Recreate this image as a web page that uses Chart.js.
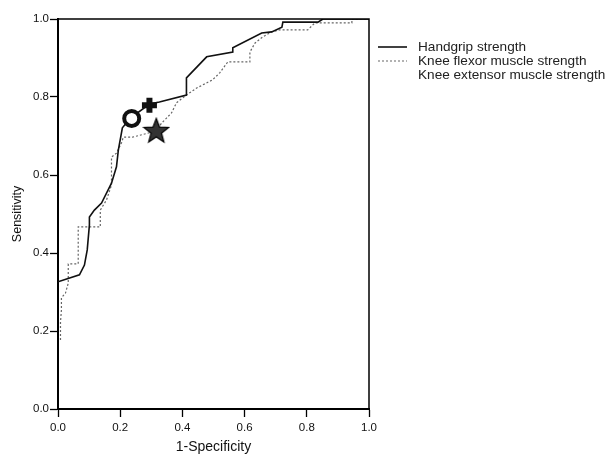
<!DOCTYPE html>
<html>

<head>
    <title>ROC curves</title>
    <script src="https://cdn.jsdelivr.net/npm/chart.js"></script>
    <style>
        body { margin: 0; background: #fff; }
        #wrap { width: 613px; height: 456px; }
    </style>
</head>

<body>
    <div id="wrap"><canvas id="chart"></canvas></div>
    <script>
        // series names (legend)
        const seriesNames = ['Handgrip strength', 'Knee flexor muscle strength', 'Knee extensor muscle strength'];

        // ROC curve, handgrip strength
        const handgripX = [0, 0.069, 0.085, 0.094, 0.101, 0.101, 0.117, 0.140, 0.172, 0.188, 0.194, 0.207, 0.233, 0.294, 0.326, 0.413, 0.413, 0.478, 0.562, 0.562, 0.655, 0.687, 0.720, 0.723, 0.836, 0.852, 1.0];
        const handgripY = [0.326, 0.344, 0.369, 0.408, 0.472, 0.492, 0.510, 0.528, 0.579, 0.621, 0.664, 0.721, 0.746, 0.782, 0.787, 0.805, 0.849, 0.903, 0.915, 0.926, 0.964, 0.967, 0.979, 0.992, 0.992, 1.0, 1.0];

        // ROC curve, knee flexor muscle strength
        const flexorX = [0.008, 0.008, 0.011, 0.011, 0.024, 0.033, 0.033, 0.065, 0.065, 0.136, 0.136, 0.156, 0.172, 0.172, 0.188, 0.204, 0.210, 0.240, 0.316, 0.333, 0.349, 0.365, 0.381, 0.413, 0.446, 0.497, 0.520, 0.546, 0.617, 0.617, 0.633, 0.658, 0.687, 0.713, 0.803, 0.826, 0.945, 0.945, 1.0];
        const flexorY = [0.177, 0.223, 0.254, 0.285, 0.297, 0.323, 0.372, 0.372, 0.467, 0.467, 0.510, 0.536, 0.574, 0.646, 0.656, 0.682, 0.697, 0.697, 0.713, 0.733, 0.746, 0.759, 0.785, 0.805, 0.823, 0.844, 0.862, 0.890, 0.890, 0.915, 0.938, 0.954, 0.967, 0.972, 0.972, 0.990, 0.990, 1.0, 1.0];

        // cut-off markers: circle, plus, star
        const cutX = [0.237, 0.294, 0.316];
        const cutY = [0.745, 0.779, 0.713];

        const tickValues = [0, 0.2, 0.4, 0.6, 0.8, 1.0];

        const toPoints = (xs, ys) => xs.map((x, i) => ({ x: x, y: ys[i] }));

        // filled five point star for the third marker
        const star = document.createElement('canvas');
        star.width = 28; star.height = 28;
        (function () {
            const c = star.getContext('2d');
            c.beginPath();
            for (let i = 0; i < 10; i++) {
                const r = i % 2 === 0 ? 13 : 5.5;
                const a = -Math.PI / 2 + i * Math.PI / 5;
                const px = 14 + r * Math.cos(a), py = 14.5 + r * Math.sin(a);
                i === 0 ? c.moveTo(px, py) : c.lineTo(px, py);
            }
            c.closePath();
            c.fillStyle = '#333';
            c.fill();
            c.lineWidth = 1.2;
            c.strokeStyle = '#000';
            c.stroke();
        })();

        const font = 'Liberation Sans, Arial, sans-serif';

        // top / right frame plus the legend at the right
        const framePlugin = {
            id: 'frameLegend',
            afterDraw(chart) {
                const { ctx, chartArea: a } = chart;
                ctx.save();
                ctx.strokeStyle = '#000';
                ctx.lineWidth = 1.5;
                ctx.beginPath();
                ctx.moveTo(a.left, a.top);
                ctx.lineTo(a.right, a.top);
                ctx.lineTo(a.right, a.bottom);
                ctx.stroke();

                const styles = [
                    { color: '#111', dash: [], width: 1.6 },
                    { color: '#666', dash: [2, 2], width: 1.2 },
                    null
                ];
                ctx.font = '13.6px ' + font;
                ctx.textBaseline = 'middle';
                ctx.fillStyle = '#222';
                seriesNames.forEach((name, i) => {
                    const y = 47 + i * 14;
                    const s = styles[i];
                    if (s) {
                        ctx.strokeStyle = s.color;
                        ctx.lineWidth = s.width;
                        ctx.setLineDash(s.dash);
                        ctx.beginPath();
                        ctx.moveTo(378, y);
                        ctx.lineTo(407, y);
                        ctx.stroke();
                        ctx.setLineDash([]);
                    }
                    ctx.fillText(name, 418, y);
                });
                ctx.restore();
            }
        };

        const axisCommon = {
            type: 'linear',
            min: 0,
            max: 1,
            afterBuildTicks: s => { s.ticks = tickValues.map(v => ({ value: v })); },
            grid: { drawOnChartArea: false, drawTicks: true, tickLength: 8, tickColor: '#000', tickWidth: 1.3 },
            border: { display: true, color: '#000', width: 2 }
        };

        new Chart(document.getElementById('chart'), {
            type: 'scatter',
            data: {
                datasets: [
                    {
                        label: 'cut-off',
                        data: toPoints(cutX, cutY),
                        order: 0,
                        pointStyle: ['circle', 'cross', star],
                        pointRadius: [7.5, 7.5, 14],
                        pointBorderWidth: [4, 6, 0],
                        pointBorderColor: '#111',
                        pointBackgroundColor: '#fff'
                    },
                    {
                        label: seriesNames[0],
                        data: toPoints(handgripX, handgripY),
                        order: 1,
                        showLine: true,
                        pointRadius: 0,
                        borderColor: '#111',
                        borderWidth: 1.6,
                        tension: 0
                    },
                    {
                        label: seriesNames[1],
                        data: toPoints(flexorX, flexorY),
                        order: 2,
                        showLine: true,
                        pointRadius: 0,
                        borderColor: '#666',
                        borderDash: [2, 2],
                        borderWidth: 1.2,
                        tension: 0
                    }
                ]
            },
            options: {
                responsive: true,
                maintainAspectRatio: false,
                animation: false,
                layout: { padding: { top: 19, right: 244, left: 0, bottom: 0 } },
                plugins: { legend: { display: false }, tooltip: { enabled: false } },
                scales: {
                    x: Object.assign({}, axisCommon, {
                        afterFit: s => { s.height = 47; },
                        ticks: { padding: 4, color: '#111', font: { family: font, size: 11.5 }, callback: v => v.toFixed(1), maxRotation: 0 },
                        title: { display: true, text: '1-Specificity', color: '#111', font: { family: font, size: 14 }, padding: { top: 0, bottom: 0 } }
                    }),
                    y: Object.assign({}, axisCommon, {
                        afterFit: s => { s.width = 58; },
                        ticks: { padding: 1, color: '#111', font: { family: font, size: 11.5 }, callback: v => v.toFixed(1) },
                        title: { display: true, text: 'Sensitivity', color: '#111', font: { family: font, size: 12.5 }, padding: { top: 10, bottom: 0 } }
                    })
                }
            },
            plugins: [framePlugin]
        });
    </script>

</body>

</html>
